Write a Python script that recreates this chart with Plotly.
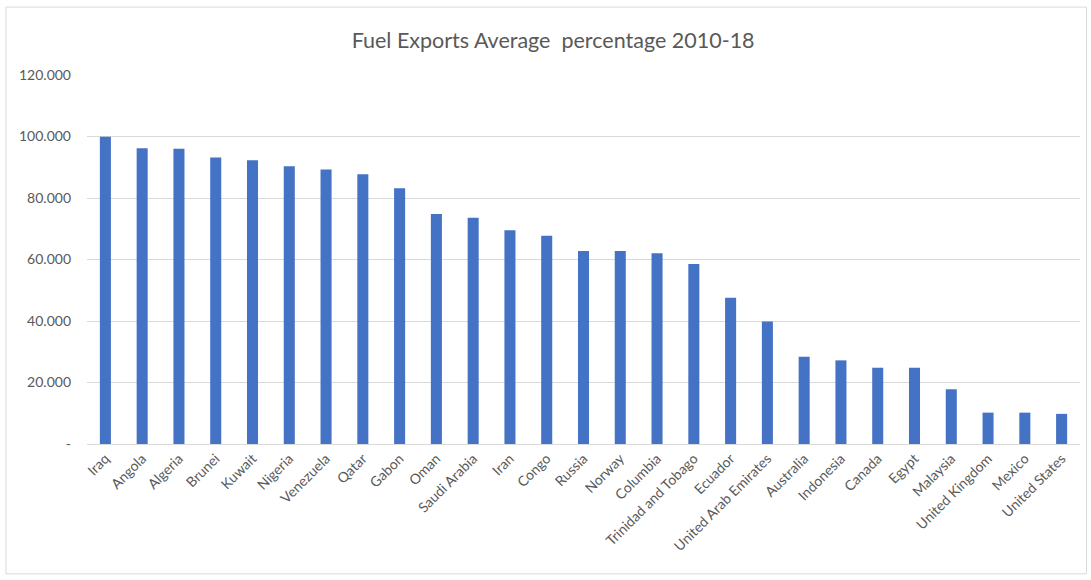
import plotly.graph_objects as go

countries = ["Iraq", "Angola", "Algeria", "Brunei", "Kuwait", "Nigeria", "Venezuela", "Qatar",
             "Gabon", "Oman", "Saudi Arabia", "Iran", "Congo", "Russia", "Norway", "Columbia",
             "Trinidad and Tobago", "Ecuador", "United Arab Emirates", "Australia", "Indonesia",
             "Canada", "Egypt", "Malaysia", "United Kingdom", "Mexico", "United States"]
values = [99.9, 96.2, 96.0, 93.2, 92.3, 90.3, 89.3, 87.7,
          83.2, 74.8, 73.6, 69.5, 67.7, 62.8, 62.8, 62.0,
          58.5, 47.6, 39.8, 28.4, 27.2, 24.8, 24.8, 17.8, 10.2, 10.2, 9.8]
ytick_vals = [0, 20, 40, 60, 80, 100, 120]
ytick_text = ["-", "20.000", "40.000", "60.000", "80.000", "100.000", "120.000"]

FONT = "Lato, 'Open Sans', sans-serif"
GRAY = "#595959"

fig = go.Figure(go.Bar(x=countries, y=values, marker=dict(color="#4472C4", line=dict(width=0))))

fig.update_layout(
    width=1091, height=580,
    margin=dict(l=87, r=11, t=75, b=136),
    paper_bgcolor="white", plot_bgcolor="white",
    bargap=0.7,
    showlegend=False,
    title=dict(text="Fuel Exports Average  percentage 2010-18", x=0.507, xanchor="center",
               y=0.931, yanchor="middle",
               font=dict(family=FONT, size=21.5, color=GRAY)),
    font=dict(family=FONT, color=GRAY),
    shapes=[dict(type="rect", xref="paper", yref="paper", x0=-0.0816, x1=1.0065,
                 y0=-0.352, y1=1.184, line=dict(color="#d9d9d9", width=1))],
)
fig.update_xaxes(tickangle=-45, tickfont=dict(size=14, color=GRAY), showgrid=False,
                 showline=True, linecolor="#d9d9d9", ticks="")
fig.update_yaxes(range=[0, 120], tickvals=ytick_vals, ticktext=ytick_text,
                 tickfont=dict(size=14, color=GRAY), showgrid=True, gridcolor="#d9d9d9",
                 zeroline=False, ticks="", ticklabelstandoff=15)

fig.write_html("out.html")
